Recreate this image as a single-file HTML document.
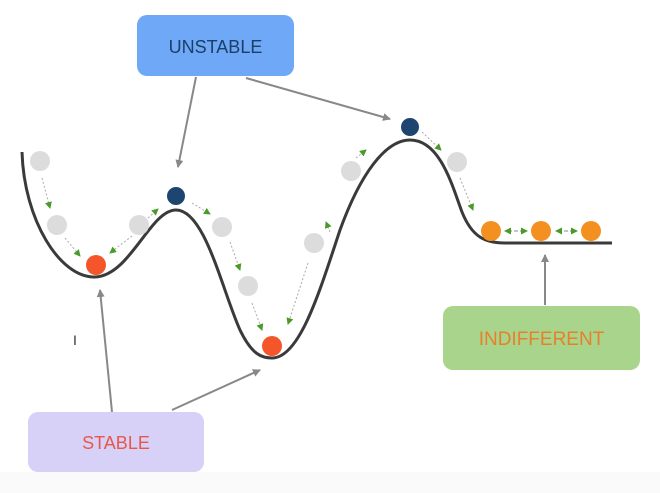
<!DOCTYPE html>
<html><head><style>
html,body{margin:0;padding:0;background:#fff;}
svg{display:block;}
text{font-family:"Liberation Sans",sans-serif;}
</style></head><body>
<svg width="660" height="493" viewBox="0 0 660 493" xmlns="http://www.w3.org/2000/svg">
<defs>
<marker id="ga" markerWidth="8" markerHeight="8" refX="7" refY="4" orient="auto" markerUnits="userSpaceOnUse"><path d="M0,0 L8,4 L0,8 Z" fill="#888"/></marker>
<marker id="gr" markerWidth="7" markerHeight="7" refX="6" refY="3.5" orient="auto" markerUnits="userSpaceOnUse"><path d="M0,0 L7,3.5 L0,7 Z" fill="#4a9a2a"/></marker>
</defs>
<rect x="0" y="0" width="660" height="493" fill="#fff"/>
<rect x="0" y="472" width="660" height="21" fill="#fafafa"/>
<!-- curve -->
<path d="M22,152 C24,220 60,278 95,277 C130,276 150,210 176,210 C205,210 222,290 240,330 C252,355 262,358 272,358 C300,358 320,290 340,230 C360,175 385,140 410,140 C440,140 452,185 462,212 C472,237 485,243 505,243 L612,243" fill="none" stroke="#3a3a3a" stroke-width="3"/>
<!-- gray balls -->
<g fill="#dcdcdc">
<circle cx="40" cy="161" r="10"/><circle cx="57" cy="225" r="10"/><circle cx="139" cy="225" r="10"/>
<circle cx="222" cy="227" r="10"/><circle cx="248" cy="286" r="10"/><circle cx="314" cy="243" r="10"/>
<circle cx="351" cy="171" r="10"/><circle cx="457" cy="162" r="10"/>
</g>
<!-- dotted green arrows -->
<g stroke="#aaa" stroke-width="1" stroke-dasharray="2,2" fill="none" marker-end="url(#gr)">
<line x1="42" y1="178" x2="50" y2="208"/>
<line x1="65" y1="238" x2="80" y2="256"/>
<line x1="132" y1="236" x2="110" y2="253"/>
<line x1="148" y1="218" x2="158" y2="209"/>
<line x1="192" y1="203" x2="210" y2="214"/>
<line x1="230" y1="242" x2="240" y2="270"/>
<line x1="252" y1="303" x2="262" y2="330"/>
<line x1="308" y1="263" x2="288" y2="324"/>
<line x1="330" y1="232" x2="326" y2="222"/>
<line x1="356" y1="158" x2="366" y2="150"/>
<line x1="422" y1="132" x2="441" y2="150"/>
<line x1="460" y1="178" x2="473" y2="210"/>
</g>
<g stroke="#888" stroke-width="1" stroke-dasharray="2,2" marker-end="url(#gr)">
<line x1="516" y1="231" x2="505" y2="231"/><line x1="516" y1="231" x2="527" y2="231"/>
<line x1="566" y1="231" x2="556" y2="231"/><line x1="566" y1="231" x2="577" y2="231"/>
</g>
<!-- colored balls -->
<circle cx="96" cy="265" r="10" fill="#f4552a"/>
<circle cx="272" cy="346" r="10" fill="#f4552a"/>
<circle cx="176" cy="196" r="9" fill="#1e4570"/>
<circle cx="410" cy="127" r="9" fill="#1e4570"/>
<circle cx="491" cy="231" r="10" fill="#f39020"/>
<circle cx="541" cy="231" r="10" fill="#f39020"/>
<circle cx="591" cy="231" r="10" fill="#f39020"/>
<!-- gray callout arrows -->
<g stroke="#888" stroke-width="2" marker-end="url(#ga)">
<line x1="196" y1="77" x2="178" y2="167"/>
<line x1="246" y1="78" x2="390" y2="119"/>
<line x1="112" y1="412" x2="100" y2="290"/>
<line x1="172" y1="410" x2="260" y2="370"/>
<line x1="545" y1="305" x2="545" y2="255"/>
</g>
<!-- boxes -->
<rect x="137" y="15" width="157" height="61" rx="10" fill="#6ea8f7"/>
<text x="215.5" y="53" text-anchor="middle" font-size="18" fill="#1b3f66">UNSTABLE</text>
<rect x="443" y="306" width="197" height="64" rx="10" fill="#a9d48c"/>
<text x="541.5" y="345" text-anchor="middle" font-size="19" fill="#e8802a">INDIFFERENT</text>
<rect x="28" y="412" width="176" height="60" rx="10" fill="#d7d0f7"/>
<text x="116" y="449" text-anchor="middle" font-size="18" fill="#e8584a">STABLE</text>
<text x="75" y="345" text-anchor="middle" font-size="14" fill="#333">I</text>
</svg>
</body></html>
